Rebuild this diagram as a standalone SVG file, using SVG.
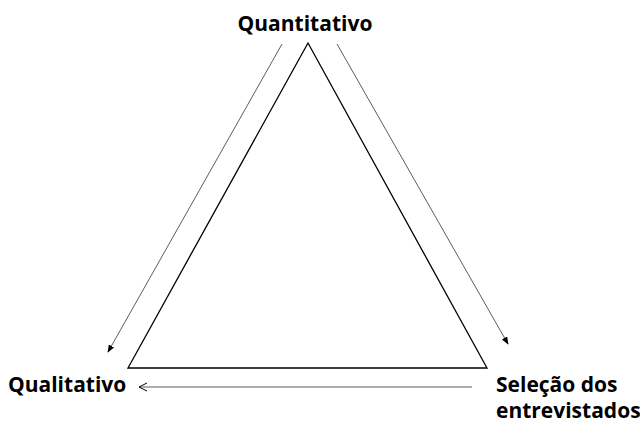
<svg xmlns="http://www.w3.org/2000/svg" width="640" height="427" viewBox="0 0 640 427">
<style>
.lbl{font-family:"Open Sans","Liberation Sans",sans-serif;font-weight:bold;font-size:21px;fill:#000}
.tri{fill:none;stroke:#000;stroke-width:1.3;stroke-linejoin:miter}
.arr{fill:none;stroke:#333;stroke-width:0.8}
</style>
<defs>
<marker id="fill" markerWidth="8" markerHeight="8" refX="7" refY="4" orient="auto" markerUnits="userSpaceOnUse">
<path d="M0,1 L8,4 L0,7 Z" fill="#000"/>
</marker>
<marker id="open" markerWidth="10" markerHeight="10" refX="9" refY="5" orient="auto" markerUnits="userSpaceOnUse">
<path d="M1,1 L9,5 L1,9" fill="none" stroke="#000" stroke-width="1"/>
</marker>
</defs>
<g id="triangle"><polygon class="tri" points="308,43 128,368 487,368"/></g>
<g id="connectors">
<line class="arr" x1="282" y1="44" x2="108" y2="352" marker-end="url(#fill)"/>
<line class="arr" x1="337" y1="44" x2="508" y2="344" marker-end="url(#fill)"/>
<line class="arr" x1="472" y1="387" x2="139" y2="387" marker-end="url(#open)"/>
</g>
<g id="quantitativo"><text class="lbl" x="305" y="31" text-anchor="middle">Quantitativo</text></g>
<g id="qualitativo"><text class="lbl" x="8" y="392">Qualitativo</text></g>
<g id="selecao"><text class="lbl" x="496" y="392">Seleção dos</text><text class="lbl" x="496" y="418">entrevistados</text></g>
</svg>
